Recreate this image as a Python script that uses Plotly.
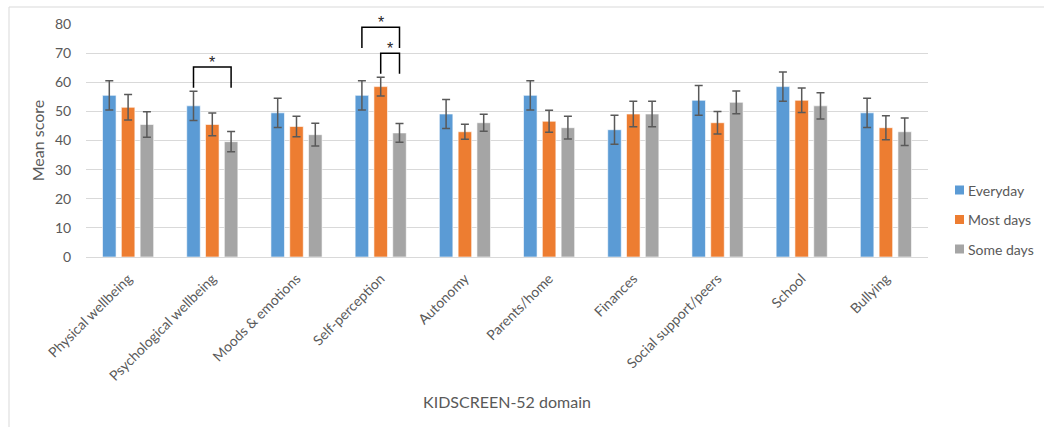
import plotly.graph_objects as go

categories = ["Physical wellbeing", "Psychological wellbeing", "Moods & emotions",
              "Self-perception", "Autonomy", "Parents/home", "Finances",
              "Social support/peers", "School", "Bullying"]
series_names = ["Everyday", "Most days", "Some days"]
everyday = [55.5, 51.9, 49.5, 55.5, 49.1, 55.5, 43.7, 53.8, 58.5, 49.5]
most_days = [51.4, 45.5, 44.8, 58.5, 43.0, 46.6, 49.1, 46.1, 53.8, 44.4]
some_days = [45.5, 39.6, 42.0, 42.6, 46.1, 44.4, 49.1, 53.1, 51.9, 43.0]
everyday_err = [5.0, 5.0, 5.0, 5.0, 5.0, 5.0, 5.0, 5.1, 5.0, 5.0]
most_days_err = [4.4, 3.9, 3.5, 3.2, 2.6, 3.8, 4.4, 3.9, 4.2, 4.1]
some_days_err = [4.4, 3.5, 3.9, 3.2, 2.9, 3.9, 4.4, 3.9, 4.5, 4.7]
colors = ["#5B9BD5", "#ED7D31", "#A5A5A5"]
# significance brackets: (category, series a, series b, stacking level)
brackets = [("Psychological wellbeing", 0, 2, 0),
            ("Self-perception", 1, 2, 0),
            ("Self-perception", 0, 2, 1)]

values = [everyday, most_days, some_days]
errors = [everyday_err, most_days_err, some_days_err]

FONT = "Lato"
TXT = "#595959"
BARGAP = 0.33
W, H = 1044, 427
ML, MR, MT, MB = 86, 116, 24, 170
PW, PH = W - ML - MR, H - MT - MB


def px_x(p):
    return (p - ML) / PW


def px_y(p):
    return (H - MB - p) / PH


fig = go.Figure()
for name, vals, errs, col in zip(series_names, values, errors, colors):
    fig.add_trace(go.Bar(
        x=categories, y=vals, name=name, showlegend=False,
        marker=dict(color=col, line=dict(color="rgba(255,255,255,0.6)", width=1)),
        error_y=dict(type="data", array=errs, visible=True, color="#595959",
                     thickness=1.5, width=4),
    ))

slot = (1 - BARGAP) / 3
shapes = []
annotations = []
for cat, a, b, level in brackets:
    i = categories.index(cat)
    xa = i + (a - 1) * slot
    xb = i + (b - 1) * slot
    top_err = max(values[s][i] + errors[s][i] for s in range(3))
    y0 = top_err + 1.2 + level * 8.9
    y1 = y0 + 7.1
    path = f"M {xa},{y0} L {xa},{y1} L {xb},{y1} L {xb},{y0}"
    shapes.append(dict(type="path", path=path, xref="x", yref="y",
                       line=dict(color="#000000", width=1.5)))
    annotations.append(dict(x=(xa + xb) / 2, y=y1, xref="x", yref="y", text="*",
                            showarrow=False, yanchor="bottom", yshift=-6,
                            font=dict(family="Liberation Sans", size=16, color="#262626")))

# legend drawn manually (square + label per series)
for k, (name, col) in enumerate(zip(series_names, colors)):
    cy = 190 + k * 29.5
    shapes.append(dict(type="rect", xref="paper", yref="paper",
                       x0=px_x(955), x1=px_x(964), y0=px_y(cy + 4.5), y1=px_y(cy - 4.5),
                       fillcolor=col, line=dict(width=0)))
    annotations.append(dict(x=px_x(966), y=px_y(cy), xref="paper", yref="paper",
                            text=name, showarrow=False, xanchor="left", yanchor="middle",
                            font=dict(family=FONT, size=14, color=TXT)))

# outer chart border (only top and left edges visible)
shapes.append(dict(type="rect", xref="paper", yref="paper",
                   x0=px_x(9), x1=px_x(1200), y0=px_y(600), y1=px_y(7),
                   line=dict(color="#D9D9D9", width=1), layer="below"))

fig.update_layout(
    width=W, height=H,
    margin=dict(l=ML, r=MR, t=MT, b=MB),
    paper_bgcolor="white", plot_bgcolor="white",
    barmode="group", bargap=BARGAP, bargroupgap=0.28,
    font=dict(family=FONT, color=TXT, size=14),
    showlegend=False,
    shapes=shapes, annotations=annotations,
)
fig.update_yaxes(range=[0, 80], dtick=10, showgrid=True, gridcolor="#D9D9D9",
                 gridwidth=1, zeroline=False, showline=False,
                 ticks="outside", ticklen=11, tickcolor="rgba(0,0,0,0)",
                 tickfont=dict(family=FONT, size=14, color=TXT),
                 title=dict(text="Mean score", font=dict(family=FONT, size=16, color=TXT),
                            standoff=6))
fig.update_xaxes(tickangle=-45, showline=True, linecolor="#D9D9D9", linewidth=1,
                 ticks="outside", ticklen=7, tickcolor="rgba(0,0,0,0)",
                 tickfont=dict(family=FONT, size=14, color=TXT),
                 title=dict(text="KIDSCREEN-52 domain",
                            font=dict(family=FONT, size=16, color=TXT), standoff=13))

fig.write_html("out.html", config={"displayModeBar": False},
               post_script="document.body.style.margin='0';")
